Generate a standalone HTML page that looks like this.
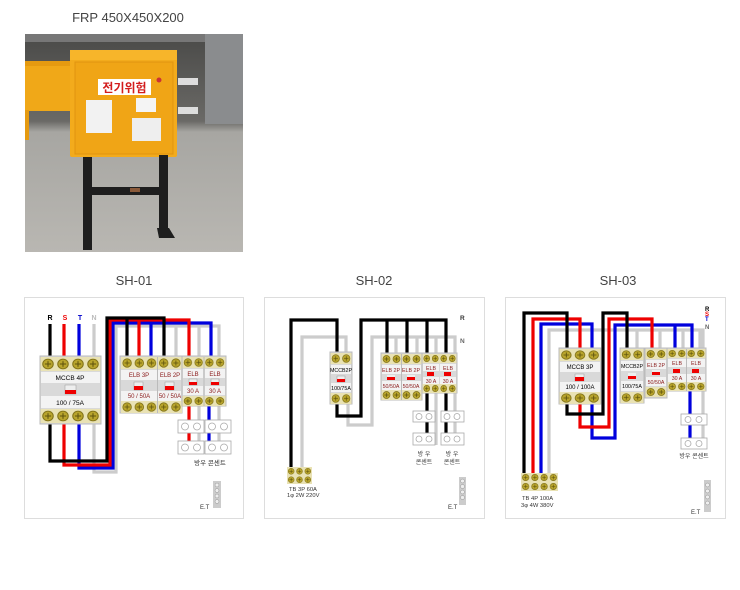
<!DOCTYPE html>
<html><head><meta charset="utf-8"><style>
html,body{margin:0;padding:0;background:#fff;}
svg{display:block;font-family:"Liberation Sans","Noto Sans CJK KR",sans-serif;}
</style></head><body>
<svg width="740" height="590" viewBox="0 0 740 590" xmlns="http://www.w3.org/2000/svg">
<defs>
<pattern id="t" x="0" y="0" width="12" height="12" patternUnits="userSpaceOnUse">
<rect width="12" height="12" fill="#e9e2b4"/><circle cx="6" cy="6" r="4.2" fill="#b9a52c" stroke="#7d6e12" stroke-width="0.8"/><path d="M3.5 6h5M6 3.5v5" stroke="#5b500c" stroke-width="0.8"/>
</pattern>
<linearGradient id="bg" x1="0" y1="0" x2="0" y2="1"><stop offset="0" stop-color="#4a4a48"/><stop offset="0.4" stop-color="#6a6966"/><stop offset="0.45" stop-color="#a7a6a2"/><stop offset="1" stop-color="#b9b7b2"/></linearGradient>
</defs>
<g font-size="13" fill="#444" text-anchor="middle">
<text x="128" y="22">FRP 450X450X200</text>
<text x="134" y="285">SH-01</text>
<text x="374" y="285">SH-02</text>
<text x="618" y="285">SH-03</text>
</g>
<!-- photo -->
<rect x="25" y="34" width="218" height="218" fill="url(#bg)"/>
<rect x="25" y="34" width="218" height="8" fill="#777"/>
<rect x="205" y="34" width="38" height="90" fill="#8a8c8e"/>
<rect x="25" y="61" width="45" height="50" fill="#f0a818"/>
<rect x="25" y="61" width="45" height="5" fill="#e59a10"/>
<rect x="25" y="110" width="4" height="30" fill="#e59a10"/>
<rect x="178" y="78" width="20" height="7" fill="#ddd"/>
<rect x="178" y="107" width="20" height="7" fill="#ddd"/>
<rect x="70" y="50" width="107" height="107" rx="2" fill="#f3ab1c"/>
<rect x="70" y="50" width="107" height="10" fill="#f7b52a"/>
<rect x="75" y="62" width="98" height="92" fill="#f0a516" stroke="#e09410" stroke-width="1"/>
<rect x="98" y="79" width="53" height="16" fill="#fff"/>
<text x="124.5" y="92" font-size="12" font-weight="bold" fill="#d31c1c" text-anchor="middle">전기위험</text>
<circle cx="159" cy="80" r="2.5" fill="#c33"/>
<rect x="86" y="100" width="26" height="33" fill="#f2f2f2"/>
<rect x="136" y="98" width="20" height="14" fill="#f4f4f4"/>
<rect x="132" y="118" width="29" height="23" fill="#eee"/>
<rect x="83" y="157" width="9" height="93" fill="#1e1e1e"/>
<rect x="159" y="155" width="9" height="75" fill="#1e1e1e"/>
<path d="M157 228l12 0 6 10-16 0z" fill="#1e1e1e"/>
<rect x="89" y="187" width="74" height="8" fill="#1e1e1e"/>
<rect x="130" y="188" width="10" height="4" fill="#8a5a3a"/>

<g fill="#fff" stroke="#ddd" stroke-width="1">
<rect x="24.5" y="297.5" width="219" height="221"/>
<rect x="264.5" y="297.5" width="220" height="221"/>
<rect x="505.5" y="297.5" width="220" height="221"/>
</g>

<!-- ============ SH-01 ============ -->
<g font-size="7" font-weight="bold" text-anchor="middle">
<text x="50" y="320" fill="#000">R</text><text x="65" y="320" fill="#e00">S</text><text x="80" y="320" fill="#00c">T</text><text x="94" y="320" fill="#bbb">N</text>
</g>
<g fill="none" stroke-width="3.2">
<path d="M94 324V357M94 423V472H116V326H219V358" stroke="#ccc"/>
<path d="M176 326V358M199 326V358M219 405V453M199 405V453" stroke="#ccc"/>
<path d="M79 324V357M79 423V468H113V323H211V358" stroke="#00d"/>
<path d="M151 323V358M209 405V442" stroke="#00d"/>
<path d="M64 324V357M64 423V465H110V320H189V358" stroke="#e00"/>
<path d="M139 320V358M189 405V442" stroke="#e00"/>
<path d="M50 324V357M50 423V461H107V318H164V358" stroke="#000"/>
<path d="M127 318V358" stroke="#000"/>
</g>
<g>
<rect x="40" y="356" width="61" height="68" fill="#d9d9d9" stroke="#bbb"/>
<rect width="48" height="12" fill="url(#t)" transform="translate(40.5,357) scale(1.25,1.167)"/>
<rect x="41" y="372" width="59" height="11" fill="#f3f3f3"/>
<rect x="41" y="396" width="59" height="12" fill="#f3f3f3"/>
<rect x="65" y="385" width="11" height="9" fill="#eee" stroke="#999" stroke-width="0.5"/><rect x="65" y="390" width="11" height="4" fill="#e00"/>
<rect width="48" height="12" fill="url(#t)" transform="translate(40.5,409) scale(1.25,1.167)"/>
<text x="70" y="380" font-size="6.5" text-anchor="middle">MCCB 4P</text>
<text x="70" y="405" font-size="6.5" text-anchor="middle">100 / 75A</text>
</g>
<g>
<rect x="120" y="356" width="62" height="57" fill="#d9d9d9" stroke="#bbb"/>
<rect width="60" height="12" fill="url(#t)" transform="translate(121,357) scale(1.017,1)"/>
<rect x="121" y="370" width="36" height="10" fill="#f3f3f3"/><rect x="158" y="370" width="23" height="10" fill="#f3f3f3"/>
<rect x="121" y="391" width="36" height="10" fill="#f3f3f3"/><rect x="158" y="391" width="23" height="10" fill="#f3f3f3"/>
<rect x="134" y="382" width="9" height="8" fill="#eee" stroke="#999" stroke-width="0.5"/><rect x="134" y="386" width="9" height="4" fill="#e00"/>
<rect x="165" y="382" width="9" height="8" fill="#eee" stroke="#999" stroke-width="0.5"/><rect x="165" y="386" width="9" height="4" fill="#e00"/>
<rect width="60" height="12" fill="url(#t)" transform="translate(121,401) scale(1.017,1)"/>
<line x1="157.5" y1="357" x2="157.5" y2="413" stroke="#bbb"/>
<g font-size="6" fill="#8a1a1a" text-anchor="middle"><text x="139" y="377">ELB 3P</text><text x="170" y="377">ELB 2P</text><text x="139" y="398">50 / 50A</text><text x="170" y="398">50 / 50A</text></g>
</g>
<g>
<rect x="182" y="356" width="44" height="50" fill="#d9d9d9" stroke="#bbb"/>
<rect width="48" height="12" fill="url(#t)" transform="translate(182.5,357) scale(0.896,0.917)"/>
<rect x="183" y="369" width="20" height="9" fill="#f3f3f3"/><rect x="205" y="369" width="20" height="9" fill="#f3f3f3"/>
<rect x="183" y="386" width="20" height="9" fill="#f3f3f3"/><rect x="205" y="386" width="20" height="9" fill="#f3f3f3"/>
<rect x="189" y="379" width="8" height="6" fill="#eee" stroke="#999" stroke-width="0.5"/><rect x="189" y="382" width="8" height="3" fill="#e00"/>
<rect x="211" y="379" width="8" height="6" fill="#eee" stroke="#999" stroke-width="0.5"/><rect x="211" y="382" width="8" height="3" fill="#e00"/>
<rect width="48" height="12" fill="url(#t)" transform="translate(182.5,396) scale(0.896,0.833)"/>
<line x1="204" y1="357" x2="204" y2="406" stroke="#bbb"/>
<g font-size="6" fill="#8a1a1a" text-anchor="middle"><text x="193" y="376">ELB</text><text x="215" y="376">ELB</text><text x="193" y="393">30 A</text><text x="215" y="393">30 A</text></g>
</g>
<g fill="#fff" stroke="#aaa" stroke-width="0.8">
<rect x="178" y="420" width="26" height="13"/><rect x="205" y="420" width="26" height="13"/>
<rect x="178" y="441" width="26" height="13"/><rect x="205" y="441" width="26" height="13"/>
<circle cx="185" cy="426.5" r="3.5"/><circle cx="197" cy="426.5" r="3.5"/><circle cx="212" cy="426.5" r="3.5"/><circle cx="224" cy="426.5" r="3.5"/>
<circle cx="185" cy="447.5" r="3.5"/><circle cx="197" cy="447.5" r="3.5"/><circle cx="212" cy="447.5" r="3.5"/><circle cx="224" cy="447.5" r="3.5"/>
</g>
<text x="210" y="465" font-size="6.5" text-anchor="middle" fill="#333">방우 콘센트</text>
<rect x="213" y="481" width="8" height="27" fill="#ccc"/>
<g fill="#eee" stroke="#999" stroke-width="0.5"><circle cx="217" cy="485" r="2"/><circle cx="217" cy="490.5" r="2"/><circle cx="217" cy="496" r="2"/><circle cx="217" cy="501.5" r="2"/></g>
<text x="200" y="509" font-size="6" fill="#333">E.T</text>

<!-- ============ SH-02 ============ -->
<g font-size="6.5" font-weight="bold" fill="#333"><text x="460" y="320">R</text><text x="460" y="343" fill="#666">N</text></g>
<g fill="none" stroke-width="3.2">
<path d="M302 468V337H346V353M348 403V425H372V337H455V354" stroke="#ccc"/>
<path d="M396 337V354M417 337V354M436 337V354M436 392V445M455 392V445" stroke="#ccc"/>
<path d="M291 468V320H337V353M337 403V416H361V320H446V354" stroke="#000"/>
<path d="M387 320V354M407 320V354M427 320V354M427 392V434M446 392V434" stroke="#000"/>
</g>
<rect width="36" height="24" fill="url(#t)" transform="translate(287,467) scale(0.694,0.708)"/>
<g font-size="5.8" fill="#333"><text x="289" y="491">TB 3P 60A</text><text x="287" y="497">1φ 2W 220V</text></g>
<g>
<rect x="330" y="352" width="22" height="52" fill="#d9d9d9" stroke="#bbb"/>
<rect width="24" height="12" fill="url(#t)" transform="translate(330.5,353) scale(0.875,0.917)"/>
<rect x="331" y="365" width="20" height="9" fill="#f3f3f3"/>
<rect x="331" y="383" width="20" height="9" fill="#f3f3f3"/>
<rect x="337" y="376" width="8" height="6" fill="#eee" stroke="#999" stroke-width="0.5"/><rect x="337" y="379" width="8" height="3" fill="#e00"/>
<rect width="24" height="12" fill="url(#t)" transform="translate(330.5,393) scale(0.875,0.917)"/>
<g font-size="5.3" text-anchor="middle"><text x="341" y="372">MCCB2P</text><text x="341" y="390">100/75A</text></g>
</g>
<g>
<rect x="381" y="353" width="41" height="47" fill="#d9d9d9" stroke="#bbb"/>
<rect width="48" height="12" fill="url(#t)" transform="translate(381.5,354) scale(0.833,0.833)"/>
<rect x="382" y="365" width="19" height="9" fill="#f3f3f3"/><rect x="402" y="365" width="19" height="9" fill="#f3f3f3"/>
<rect x="382" y="381" width="19" height="9" fill="#f3f3f3"/><rect x="402" y="381" width="19" height="9" fill="#f3f3f3"/>
<rect x="387" y="375" width="8" height="5" fill="#eee"/><rect x="387" y="377" width="8" height="3" fill="#e00"/>
<rect x="407" y="375" width="8" height="5" fill="#eee"/><rect x="407" y="377" width="8" height="3" fill="#e00"/>
<rect width="48" height="12" fill="url(#t)" transform="translate(381.5,390) scale(0.833,0.833)"/>
<line x1="401.5" y1="354" x2="401.5" y2="400" stroke="#bbb"/>
<g font-size="5.3" fill="#8a1a1a" text-anchor="middle"><text x="391" y="372">ELB 2P</text><text x="411" y="372">ELB 2P</text><text x="391" y="388">50/50A</text><text x="411" y="388">50/50A</text></g>
</g>
<g>
<rect x="422" y="353" width="35" height="40" fill="#d9d9d9" stroke="#bbb"/>
<rect width="48" height="12" fill="url(#t)" transform="translate(422.5,354) scale(0.708,0.75)"/>
<rect x="423" y="364" width="16" height="7" fill="#f3f3f3"/><rect x="440" y="364" width="16" height="7" fill="#f3f3f3"/>
<rect x="423" y="377" width="16" height="7" fill="#f3f3f3"/><rect x="440" y="377" width="16" height="7" fill="#f3f3f3"/>
<rect x="427" y="372" width="7" height="4" fill="#e00"/><rect x="444" y="372" width="7" height="4" fill="#e00"/>
<rect width="48" height="12" fill="url(#t)" transform="translate(422.5,384) scale(0.708,0.75)"/>
<g font-size="5.3" fill="#8a1a1a" text-anchor="middle"><text x="431" y="370">ELB</text><text x="448" y="370">ELB</text><text x="431" y="383">30 A</text><text x="448" y="383">30 A</text></g>
</g>
<g fill="#fff" stroke="#aaa" stroke-width="0.8">
<rect x="413" y="411" width="22" height="11"/><rect x="441" y="411" width="23" height="11"/>
<rect x="413" y="433" width="22" height="12"/><rect x="441" y="433" width="23" height="12"/>
<circle cx="419" cy="416.5" r="3"/><circle cx="429" cy="416.5" r="3"/><circle cx="447" cy="416.5" r="3"/><circle cx="457" cy="416.5" r="3"/>
<circle cx="419" cy="439" r="3"/><circle cx="429" cy="439" r="3"/><circle cx="447" cy="439" r="3"/><circle cx="457" cy="439" r="3"/>
</g>
<g font-size="6" text-anchor="middle" fill="#333"><text x="424" y="456">방 우</text><text x="424" y="464">콘센트</text><text x="452" y="456">방 우</text><text x="452" y="464">콘센트</text></g>
<rect x="459" y="477" width="7" height="28" fill="#ccc"/>
<g fill="#eee" stroke="#999" stroke-width="0.5"><circle cx="462.5" cy="481" r="2"/><circle cx="462.5" cy="486.5" r="2"/><circle cx="462.5" cy="492" r="2"/><circle cx="462.5" cy="497.5" r="2"/></g>
<text x="448" y="509" font-size="6" fill="#333">E.T</text>

<!-- ============ SH-03 ============ -->
<g font-size="6" font-weight="bold"><text x="705" y="311" fill="#000">R</text><text x="705" y="316" fill="#e00">S</text><text x="705" y="321" fill="#00c">T</text><text x="705" y="329" fill="#666">N</text></g>
<g fill="none" stroke-width="3.2">
<path d="M549 474V330H703V440" stroke="#ccc"/>
<path d="M637 330V350M660 330V350M683 330V350M700 330V350" stroke="#ccc"/>
<path d="M541 474V324H592V350M592 403V438H615V325H692V350" stroke="#00d"/>
<path d="M675 325V350M690 390V440" stroke="#00d"/>
<path d="M533 474V319H580V350M580 403V427H609V319H652V350" stroke="#e00"/>
<path d="M524 474V313H567V350M567 403V414H603V313H627V350" stroke="#000"/>
</g>
<rect width="48" height="24" fill="url(#t)" transform="translate(521,473) scale(0.771,0.75)"/>
<g font-size="5.8" fill="#333"><text x="522" y="500">TB 4P 100A</text><text x="521" y="507">3φ 4W 380V</text></g>
<g>
<rect x="559" y="348" width="42" height="56" fill="#d9d9d9" stroke="#bbb"/>
<rect width="36" height="12" fill="url(#t)" transform="translate(559.5,349) scale(1.139,1)"/>
<rect x="560" y="362" width="40" height="10" fill="#f3f3f3"/>
<rect x="560" y="382" width="40" height="10" fill="#f3f3f3"/>
<rect x="575" y="374" width="9" height="7" fill="#eee" stroke="#999" stroke-width="0.5"/><rect x="575" y="377" width="9" height="4" fill="#e00"/>
<rect width="36" height="12" fill="url(#t)" transform="translate(559.5,392) scale(1.139,1)"/>
<g font-size="6" text-anchor="middle"><text x="580" y="369">MCCB 3P</text><text x="580" y="389">100 / 100A</text></g>
</g>
<g>
<rect x="620" y="348" width="24" height="55" fill="#d9d9d9" stroke="#bbb"/>
<rect width="24" height="12" fill="url(#t)" transform="translate(620.5,349) scale(0.958,0.917)"/>
<rect x="621" y="361" width="22" height="10" fill="#f3f3f3"/>
<rect x="621" y="381" width="22" height="10" fill="#f3f3f3"/>
<rect x="628" y="373" width="8" height="6" fill="#eee"/><rect x="628" y="376" width="8" height="3" fill="#e00"/>
<rect width="24" height="12" fill="url(#t)" transform="translate(620.5,392) scale(0.958,0.917)"/>
<g font-size="5.3" text-anchor="middle"><text x="632" y="368">MCCB2P</text><text x="632" y="388">100/75A</text></g>
</g>
<g>
<rect x="645" y="348" width="22" height="50" fill="#d9d9d9" stroke="#bbb"/>
<rect width="24" height="12" fill="url(#t)" transform="translate(645.5,349) scale(0.875,0.833)"/>
<rect x="646" y="360" width="20" height="9" fill="#f3f3f3"/>
<rect x="646" y="377" width="20" height="9" fill="#f3f3f3"/>
<rect x="652" y="370" width="8" height="5" fill="#eee"/><rect x="652" y="372" width="8" height="3" fill="#e00"/>
<rect width="24" height="12" fill="url(#t)" transform="translate(645.5,387) scale(0.875,0.833)"/>
<g font-size="5.3" fill="#8a1a1a" text-anchor="middle"><text x="656" y="367">ELB 2P</text><text x="656" y="384">50/50A</text></g>
</g>
<g>
<rect x="667" y="348" width="39" height="43" fill="#d9d9d9" stroke="#bbb"/>
<rect width="48" height="12" fill="url(#t)" transform="translate(667.5,349) scale(0.792,0.75)"/>
<rect x="668" y="359" width="18" height="8" fill="#f3f3f3"/><rect x="687" y="359" width="18" height="8" fill="#f3f3f3"/>
<rect x="668" y="374" width="18" height="8" fill="#f3f3f3"/><rect x="687" y="374" width="18" height="8" fill="#f3f3f3"/>
<rect x="673" y="369" width="7" height="4" fill="#e00"/><rect x="692" y="369" width="7" height="4" fill="#e00"/>
<rect width="48" height="12" fill="url(#t)" transform="translate(667.5,382) scale(0.792,0.75)"/>
<line x1="686.5" y1="349" x2="686.5" y2="391" stroke="#bbb"/>
<g font-size="5.3" fill="#8a1a1a" text-anchor="middle"><text x="677" y="365">ELB</text><text x="696" y="365">ELB</text><text x="677" y="380">30 A</text><text x="696" y="380">30 A</text></g>
</g>
<g fill="#fff" stroke="#aaa" stroke-width="0.8">
<rect x="681" y="414" width="26" height="11"/><rect x="681" y="438" width="26" height="11"/>
<circle cx="688" cy="419.5" r="3"/><circle cx="699" cy="419.5" r="3"/><circle cx="688" cy="443.5" r="3"/><circle cx="699" cy="443.5" r="3"/>
</g>
<text x="694" y="458" font-size="6" text-anchor="middle" fill="#333">방우 콘센트</text>
<rect x="704" y="480" width="7" height="32" fill="#ccc"/>
<g fill="#eee" stroke="#999" stroke-width="0.5"><circle cx="707.5" cy="485" r="2"/><circle cx="707.5" cy="491" r="2"/><circle cx="707.5" cy="497" r="2"/><circle cx="707.5" cy="503" r="2"/></g>
<text x="691" y="514" font-size="6" fill="#333">E.T</text>
</svg>
</body></html>
